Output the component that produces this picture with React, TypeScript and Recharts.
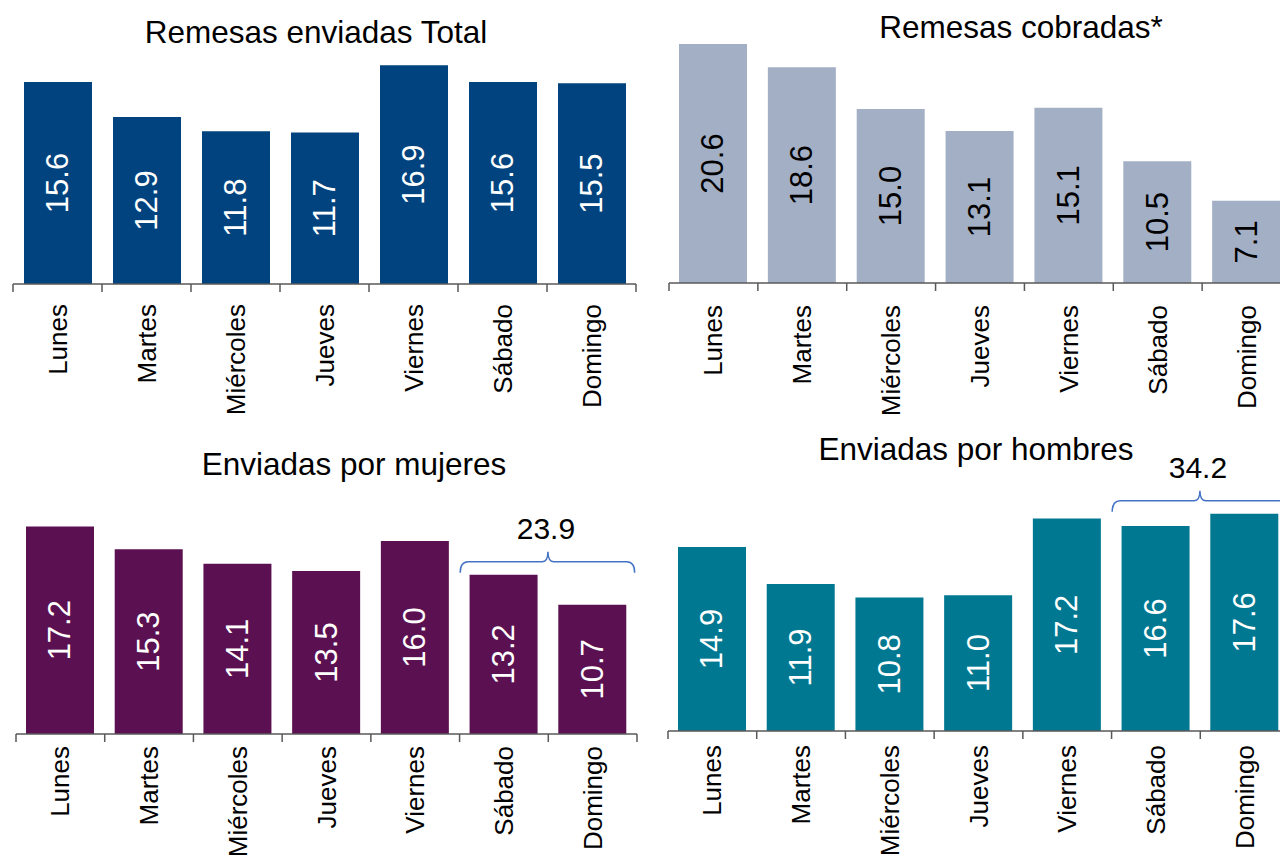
import React from "react";
import { BarChart, Bar, XAxis, YAxis, LabelList } from "recharts";

const days = ["Lunes", "Martes", "Miércoles", "Jueves", "Viernes", "Sábado", "Domingo"];
const enviadasTotal = [15.6, 12.9, 11.8, 11.7, 16.9, 15.6, 15.5];
const cobradas = [20.6, 18.6, 15.0, 13.1, 15.1, 10.5, 7.1];
const mujeres = [17.2, 15.3, 14.1, 13.5, 16.0, 13.2, 10.7];
const hombres = [14.9, 11.9, 10.8, 11.0, 17.2, 16.6, 17.6];
const finDeSemanaMujeres = 23.9;
const finDeSemanaHombres = 34.2;

const titles = ["Remesas enviadas Total", "Remesas cobradas*", "Enviadas por mujeres", "Enviadas por hombres"];

const FONT = "'Liberation Sans', Arial, Helvetica, sans-serif";
const AXIS = "#595959";
const BRACKET = "#4472C4";

type PanelCfg = {
  title: string;
  values: number[];
  color: string;
  labelColor: string;
  left: number;
  top: number;
  width: number;
  height: number;
  margin: { top: number; right: number; left: number; bottom: number };
  axisHeight: number;
  domainMax: number;
  titleX: number;
  titleY: number;
  labelGap: number;
  bracket?: number;
};

const panels: PanelCfg[] = [
  {
    title: titles[0], values: enviadasTotal, color: "#00437E", labelColor: "#ffffff",
    left: 0, top: 0, width: 640, height: 430,
    margin: { top: 25, right: 4, left: 13, bottom: 0 }, axisHeight: 146, domainMax: 20,
    titleX: 316, titleY: 43, labelGap: 20,
  },
  {
    title: titles[1], values: cobradas, color: "#A3AFC4", labelColor: "#000000",
    left: 640, top: 0, width: 660, height: 430,
    margin: { top: 27.8, right: 9, left: 29, bottom: 0 }, axisHeight: 147, domainMax: 22,
    titleX: 1021, titleY: 38, labelGap: 22,
  },
  {
    title: titles[2], values: mujeres, color: "#5B1151", labelColor: "#ffffff",
    left: 0, top: 430, width: 640, height: 431,
    margin: { top: 62.6, right: 3, left: 16, bottom: 0 }, axisHeight: 127, domainMax: 20,
    titleX: 354, titleY: 475, labelGap: 12, bracket: finDeSemanaMujeres,
  },
  {
    title: titles[3], values: hombres, color: "#007891", labelColor: "#ffffff",
    left: 640, top: 430, width: 660, height: 431,
    margin: { top: 54, right: 11, left: 28, bottom: 0 }, axisHeight: 130, domainMax: 20,
    titleX: 976, titleY: 460, labelGap: 14, bracket: finDeSemanaHombres,
  },
];

function makeTick(band: number, gap: number) {
  return (props: any) => {
    const { x, y, payload, index } = props;
    const half = band / 2;
    const ty = y + gap;
    return (
      <g>
        <line x1={x - half} y1={y} x2={x - half} y2={y + 8} stroke={AXIS} strokeWidth={1.5} />
        {index === days.length - 1 && (
          <line x1={x + half} y1={y} x2={x + half} y2={y + 8} stroke={AXIS} strokeWidth={1.5} />
        )}
        <text
          x={x}
          y={ty}
          transform={`rotate(-90, ${x}, ${ty})`}
          textAnchor="end"
          dominantBaseline="central"
          fontSize={26}
          fontFamily={FONT}
          fill="#000"
        >
          {payload.value}
        </text>
      </g>
    );
  };
}

function makeBarLabel(color: string) {
  return (props: any) => {
    const { x, y, width, height, value } = props;
    if (x == null || height == null) return null;
    const cx = Number(x) + Number(width) / 2;
    const cy = Number(y) + Number(height) / 2;
    return (
      <text
        x={cx}
        y={cy}
        transform={`rotate(-90, ${cx}, ${cy})`}
        textAnchor="middle"
        dominantBaseline="central"
        fontSize={31}
        fontFamily={FONT}
        fill={color}
      >
        {Number(value).toFixed(1)}
      </text>
    );
  };
}

function makeBracket(values: number[], band: number, total: number) {
  return (props: any) => {
    const { x, y, width, height, value, index } = props;
    if (index !== 5) return null;
    const base = Number(y) + Number(height);
    const pxPerUnit = Number(height) / Number(value);
    const nextTop = base - values[6] * pxPerUnit;
    const topMost = Math.min(Number(y), nextTop);
    const bandStart = Number(x) + Number(width) / 2 - band / 2;
    const L = bandStart + 1;
    const R = bandStart + 2 * band - 2;
    const C = bandStart + band;
    const yb = topMost - 2;
    const yl = yb - 11;
    const yt = yl - 10;
    const d = `M ${L} ${yb} Q ${L} ${yl} ${L + 8} ${yl} L ${C - 6} ${yl} Q ${C} ${yl} ${C} ${yt} Q ${C} ${yl} ${C + 6} ${yl} L ${R - 8} ${yl} Q ${R} ${yl} ${R} ${yb}`;
    return (
      <g>
        <path d={d} fill="none" stroke={BRACKET} strokeWidth={1.5} />
        <text
          x={C - 2}
          y={yl - 33}
          textAnchor="middle"
          dominantBaseline="central"
          fontSize={30}
          fontFamily={FONT}
          fill="#000"
        >
          {total.toFixed(1)}
        </text>
      </g>
    );
  };
}

function Panel({ cfg }: { cfg: PanelCfg }) {
  const data = days.map((d, i) => ({ day: d, value: cfg.values[i] }));
  const band = (cfg.width - cfg.margin.left - cfg.margin.right) / days.length;
  return (
    <div style={{ position: "absolute", left: cfg.left, top: cfg.top, width: cfg.width, height: cfg.height }}>
      <BarChart width={cfg.width} height={cfg.height} data={data} margin={cfg.margin}>
        <XAxis
          dataKey="day"
          height={cfg.axisHeight}
          interval={0}
          tickSize={0}
          tickMargin={0}
          tickLine={false}
          axisLine={{ stroke: AXIS, strokeWidth: 1.5 }}
          tick={makeTick(band, cfg.labelGap)}
        />
        <YAxis hide domain={[0, cfg.domainMax]} allowDataOverflow />
        <Bar dataKey="value" fill={cfg.color} barSize={68} isAnimationActive={false}>
          <LabelList dataKey="value" content={makeBarLabel(cfg.labelColor)} />
          {cfg.bracket != null && (
            <LabelList dataKey="value" content={makeBracket(cfg.values, band, cfg.bracket)} />
          )}
        </Bar>
      </BarChart>
    </div>
  );
}

export default function App() {
  return (
    <div
      style={{
        position: "fixed",
        left: 0,
        top: 0,
        width: 1280,
        height: 861,
        overflow: "hidden",
        background: "#ffffff",
        fontFamily: FONT,
      }}
    >
      {panels.map((p, i) => (
        <Panel key={i} cfg={p} />
      ))}
      <svg width={1280} height={861} style={{ position: "absolute", left: 0, top: 0, pointerEvents: "none" }}>
        {panels.map((p, i) => (
          <text key={i} x={p.titleX} y={p.titleY} textAnchor="middle" fontSize={31.5} fontFamily={FONT} fill="#000">
            {p.title}
          </text>
        ))}
      </svg>
    </div>
  );
}
